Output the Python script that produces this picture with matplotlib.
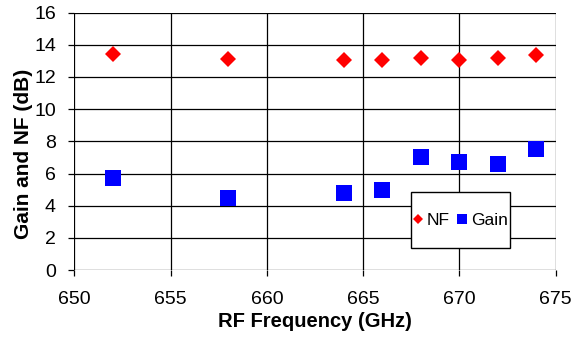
import matplotlib
matplotlib.use("Agg")
import matplotlib.pyplot as plt
from matplotlib.patches import Rectangle
from matplotlib.lines import Line2D

freq = [652, 658, 664, 666, 668, 670, 672, 674]
nf = [13.43, 13.1, 13.06, 13.08, 13.18, 13.08, 13.2, 13.37]
gain = [5.74, 4.48, 4.77, 5.0, 7.0, 6.71, 6.59, 7.52]
xticks = [650, 655, 660, 665, 670, 675]
yticks = [0, 2, 4, 6, 8, 10, 12, 14, 16]

plt.rcParams['font.family'] = ['Liberation Sans', 'DejaVu Sans']

fig = plt.figure(figsize=(5.81, 3.41), dpi=100)
ax = fig.add_axes([0.128, 0.208, 0.8285, 0.755])

ax.plot(freq, nf, linestyle='none', marker='D', color='#ff0000', markersize=8.2, markeredgewidth=0)
ax.plot(freq, gain, linestyle='none', marker='s', color='#0000ff', markersize=11, markeredgewidth=0)

ax.set_xlim(650, 675)
ax.set_ylim(0, 16)
ax.set_xticks(xticks)
ax.set_yticks(yticks)
ax.grid(True, color='black', linewidth=0.9)
ax.set_axisbelow(True)
for s in ax.spines.values():
    s.set_visible(False)
ax.tick_params(axis='both', direction='out', length=4.3, width=0.9, color='black', labelsize=14)
ax.tick_params(axis='x', pad=11)
ax.tick_params(axis='y', pad=9)

ax.set_xlabel('RF Frequency (GHz)', fontsize=14.5, fontweight='bold')
ax.set_ylabel('Gain and NF (dB)', fontsize=15, fontweight='bold')
ax.xaxis.set_label_coords(0.5, -0.198)
ax.xaxis.label.set_va('center')
ax.yaxis.set_label_coords(-0.1066, 0.451)
ax.yaxis.label.set_va('center')

# legend box
rect = Rectangle((0.699, 0.0855), 0.206, 0.2175, transform=ax.transAxes,
                 facecolor='white', edgecolor='black', linewidth=1.0, zorder=5)
ax.add_patch(rect)
handles = [Line2D([], [], linestyle='none', marker='D', color='#ff0000', markersize=5, markeredgewidth=0),
           Line2D([], [], linestyle='none', marker='s', color='#0000ff', markersize=7, markeredgewidth=0)]
leg = ax.legend(handles, ['NF', 'Gain'], loc='center', bbox_to_anchor=(0.802, 0.194),
                bbox_transform=ax.transAxes, ncol=2, frameon=False, fontsize=12.5,
                handlelength=0.6, handletextpad=0.2, columnspacing=0.4)
leg.set_zorder(6)

fig.savefig('out.png', dpi=100)
